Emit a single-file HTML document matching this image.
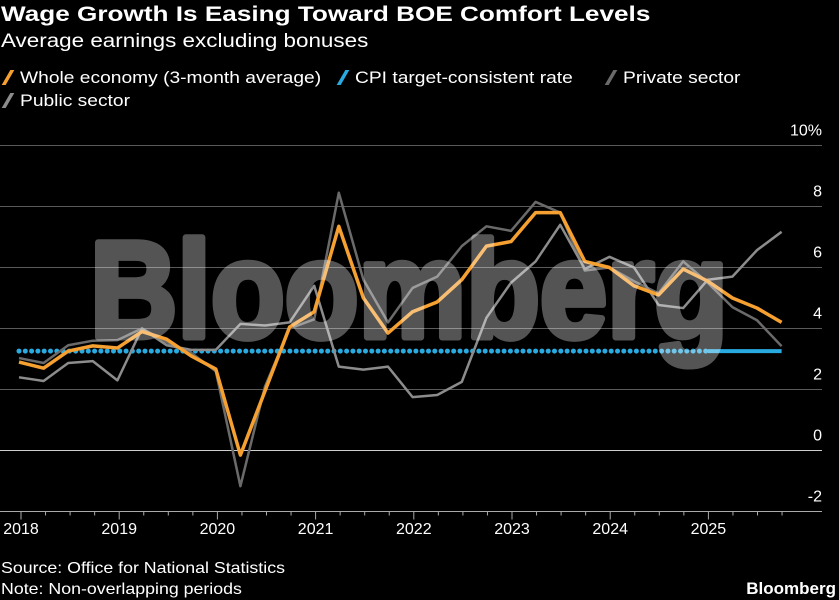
<!DOCTYPE html>
<html><head><meta charset="utf-8"><style>
html,body{margin:0;padding:0;background:#000;}
body{width:839px;height:600px;overflow:hidden;position:relative;font-family:"Liberation Sans",sans-serif;color:#fff;}
.t{position:absolute;white-space:nowrap;transform-origin:0 0;}
</style></head><body>
<div class="t" style="left:1px;top:3px;font-size:21px;font-weight:bold;transform:scaleX(1.245);">Wage Growth Is Easing Toward BOE Comfort Levels</div>
<div class="t" style="left:1px;top:31px;font-size:19px;transform:scaleX(1.18);">Average earnings excluding bonuses</div>
<div>
<div class="t" style="left:2px;top:68px;font-size:17px;"><span style="display:inline-block;width:4px;height:15px;background:#f5a030;transform:skewX(-30deg);margin:0 10px 0 4px;vertical-align:-2px"></span><span style="display:inline-block;transform:scaleX(1.13);transform-origin:0 0">Whole economy (3-month average)</span></div>
<div class="t" style="left:337px;top:68px;font-size:17px;"><span style="display:inline-block;width:4px;height:15px;background:#29abe2;transform:skewX(-30deg);margin:0 10px 0 4px;vertical-align:-2px"></span><span style="display:inline-block;transform:scaleX(1.13);transform-origin:0 0">CPI target-consistent rate</span></div>
<div class="t" style="left:605px;top:68px;font-size:17px;"><span style="display:inline-block;width:4px;height:15px;background:#6a6a6a;transform:skewX(-30deg);margin:0 10px 0 4px;vertical-align:-2px"></span><span style="display:inline-block;transform:scaleX(1.13);transform-origin:0 0">Private sector</span></div>
<div class="t" style="left:2px;top:91px;font-size:17px;"><span style="display:inline-block;width:4px;height:15px;background:#8c8c8c;transform:skewX(-30deg);margin:0 10px 0 4px;vertical-align:-2px"></span><span style="display:inline-block;transform:scaleX(1.13);transform-origin:0 0">Public sector</span></div>
</div>
<svg id="chart" width="839" height="600" style="position:absolute;left:0;top:0"></svg>
<div class="t" style="left:1px;top:560px;font-size:16px;transform:scaleX(1.11);">Source: Office for National Statistics</div>
<div class="t" style="left:1px;top:581px;font-size:16px;transform:scaleX(1.11);">Note: Non-overlapping periods</div>
<div class="t" style="right:3px;top:579px;font-size:17px;font-weight:bold;">Bloomberg</div>
<script>
const yTicks=[10,8,6,4,2,0,-2];
const yearLabels=[2018,2019,2020,2021,2022,2023,2024,2025];
const wholeEconomy=[2.9,2.7,3.26,3.43,3.36,3.9,3.65,3.1,2.67,-0.15,1.95,4.05,4.55,7.35,5.0,3.85,4.55,4.87,5.6,6.7,6.85,7.8,7.8,6.2,6.0,5.4,5.1,5.95,5.55,5.0,4.67,4.2];
const privateSector=[3.03,2.87,3.45,3.6,3.62,4.0,3.55,3.2,2.6,-1.17,2.1,4.0,4.3,8.45,5.6,4.2,5.33,5.7,6.7,7.35,7.2,8.15,7.8,5.9,6.0,5.55,5.15,6.2,5.5,4.7,4.27,3.42];
const publicSector=[2.4,2.28,2.87,2.93,2.3,4.0,3.45,3.3,3.3,4.15,4.1,4.2,5.4,2.75,2.65,2.75,1.75,1.82,2.25,4.35,5.5,6.2,7.4,5.95,6.35,6.0,4.77,4.67,5.6,5.7,6.57,7.17];
const cpiTarget=[3.26];
const NS='http://www.w3.org/2000/svg';
const svg=document.getElementById('chart');
const y=v=>450.5-v*30.5;
const xi=i=>19+i*24.6;
const xYear=yr=>21+(yr-2018)*98.2;
function mk(tag,attrs,parent){const e=document.createElementNS(NS,tag);for(const k in attrs)e.setAttribute(k,attrs[k]);(parent||svg).appendChild(e);return e;}
yTicks.forEach(v=>{
  const l=mk('line',{x1:0,x2:822,y1:y(v),y2:y(v),stroke:v===0?'#cfcfcf':'#5a5a5a','stroke-width':1});
  
  
  const t=mk('text',{x:822,y:y(v)-10,'text-anchor':'end','font-size':16,fill:'#fff','font-family':'Liberation Sans, sans-serif'});
  t.textContent=v===10?'10%':String(v);
  
  
});
const ax=mk('line',{x1:0,x2:822,y1:y(-2),y2:y(-2),stroke:'#aaa','stroke-width':1});


for(let q=0;q<32;q++){
  const yr=2018+q/4;const major=q%4===0;
  const tk=mk('line',{x1:xYear(yr),x2:xYear(yr),y1:y(-2),y2:y(-2)+(major?8:4),stroke:'#aaa','stroke-width':1});
  
  
}
yearLabels.forEach(yr=>{
  const t=mk('text',{x:xYear(yr),y:534,'text-anchor':'middle','font-size':16,fill:'#fff','font-family':'Liberation Sans, sans-serif'});
  t.textContent=String(yr);
  
  
});
const n=wholeEconomy.length;
const cpiY=y(cpiTarget[0]);
const cd=mk('line',{x1:xi(0),x2:xi(n-4),y1:cpiY,y2:cpiY,stroke:'#29abe2','stroke-width':5,'stroke-dasharray':'0 6.3','stroke-linecap':'round'});


const cs=mk('line',{x1:xi(n-4),x2:xi(n-1),y1:cpiY,y2:cpiY,stroke:'#29abe2','stroke-width':4});


function series(arr,color,w,name){
  const p=mk('polyline',{points:arr.map((v,i)=>xi(i)+','+y(v)).join(' '),fill:'none',stroke:color,'stroke-width':w,'stroke-linejoin':'round'});
  
  
}
series(privateSector,'#6a6a6a',2.5,'private-sector-line');
series(publicSector,'#8c8c8c',2.5,'public-sector-line');
series(wholeEconomy,'#f5a030',3.5,'whole-economy-line');
const wm=mk('text',{x:90,y:337,'font-size':137,'font-weight':'bold',fill:'#fff',stroke:'#fff','stroke-width':7,'stroke-linejoin':'round',opacity:0.33,'font-family':'Liberation Sans, sans-serif',textLength:638,lengthAdjust:'spacingAndGlyphs'});
wm.textContent='Bloomberg';


</script>
</body></html>
